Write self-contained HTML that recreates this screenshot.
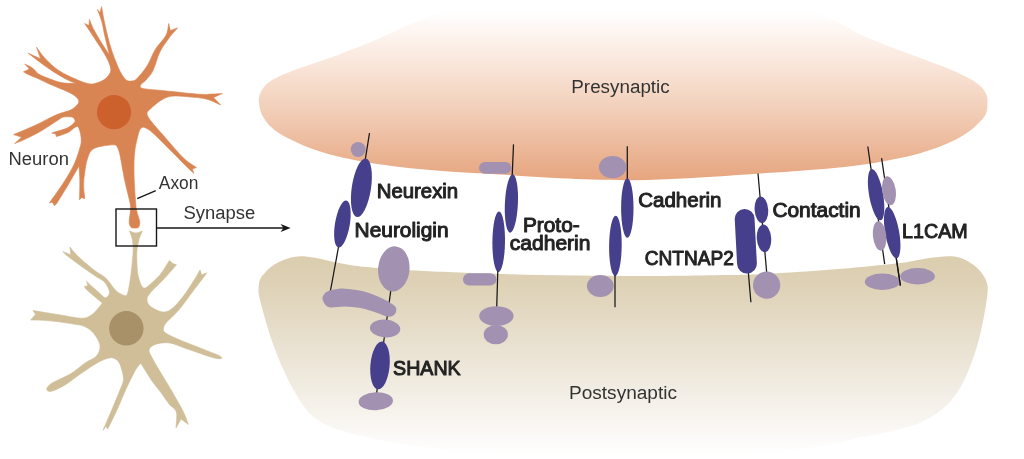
<!DOCTYPE html>
<html><head><meta charset="utf-8"><title>Synapse</title>
<style>html,body{margin:0;padding:0;background:#fff;}body{width:1024px;height:459px;overflow:hidden;font-family:"Liberation Sans",sans-serif;}svg{display:block;will-change:transform}</style>
</head><body>
<svg width="1024" height="459" viewBox="0 0 1024 459">
<defs>
<linearGradient id="gpre" gradientUnits="userSpaceOnUse" x1="0" y1="0" x2="0" y2="182">
<stop offset="0" stop-color="#ffffff"/><stop offset="0.06" stop-color="#ffffff"/><stop offset="0.3" stop-color="#fbebe1"/><stop offset="0.6" stop-color="#f2cfb9"/><stop offset="1" stop-color="#e6a47d"/>
</linearGradient>
<linearGradient id="gpost" gradientUnits="userSpaceOnUse" x1="0" y1="256" x2="0" y2="455">
<stop offset="0" stop-color="#dbcdae"/><stop offset="0.12" stop-color="#ddd0b4"/><stop offset="0.5" stop-color="#ebe4d5"/><stop offset="0.82" stop-color="#f8f5f0"/><stop offset="1" stop-color="#ffffff"/>
</linearGradient>
</defs>
<path d="M258.8,101.0 C258.6,96.4 259.9,93.4 262.0,90.0 C264.1,86.6 266.2,83.4 271.4,80.4 C277.5,76.8 287.7,72.8 298.8,68.6 C309.9,64.3 324.9,59.8 338.0,54.9 C351.1,50.0 364.2,44.8 377.3,39.2 C390.4,33.7 405.4,26.2 416.5,21.6 C427.6,17.0 431.4,15.4 444.0,11.8 C457.9,7.9 474.3,1.4 500.0,-2.0 C529.8,-6.0 581.3,-12.0 623.0,-12.0 C664.7,-12.0 716.7,-6.6 750.0,-2.0 C783.3,2.6 804.1,9.5 822.8,15.7 C841.5,21.9 848.9,29.4 862.0,35.3 C875.1,41.2 886.9,45.5 901.3,51.0 C915.7,56.5 935.9,63.4 948.3,68.6 C960.7,73.8 969.8,78.7 975.8,82.4 C980.5,85.3 982.5,87.9 984.5,91.0 C986.5,94.1 987.6,96.8 987.5,101.2 C987.4,105.6 988.2,111.6 983.6,117.6 C979.0,123.6 970.5,131.4 960.0,137.3 C949.5,143.2 937.2,148.3 920.9,152.9 C904.6,157.5 881.6,161.8 862.0,164.7 C842.4,167.6 819.5,169.2 803.2,170.6 C786.9,172.0 781.2,172.2 764.0,173.3 C746.8,174.5 722.3,176.3 700.0,177.5 C677.7,178.7 653.3,180.1 630.0,180.2 C606.7,180.3 581.7,179.2 560.0,178.3 C538.3,177.4 520.7,175.8 500.0,174.5 C479.3,173.2 457.8,172.6 436.0,170.6 C414.2,168.6 389.0,166.0 369.4,162.7 C349.8,159.4 333.4,155.9 318.4,151.0 C303.4,146.1 288.3,138.9 279.2,133.3 C270.7,128.1 266.9,123.0 263.5,117.6 C260.1,112.2 259.1,105.6 258.8,101.0Z" fill="url(#gpre)"/>
<path d="M258.7,286.0 C258.9,282.8 259.4,280.8 260.5,278.5 C261.6,276.2 263.5,274.4 265.2,272.5 C266.9,270.6 268.4,268.9 270.5,267.3 C272.6,265.7 275.0,264.1 277.9,262.6 C280.8,261.1 284.2,259.4 288.0,258.4 C291.8,257.3 296.6,256.4 300.8,256.3 C305.0,256.2 308.8,257.0 313.0,257.6 C317.2,258.2 320.3,259.0 326.2,260.2 C332.6,261.5 343.1,263.9 351.6,265.2 C360.1,266.5 366.4,267.0 377.0,267.9 C387.6,268.8 402.3,269.7 415.0,270.4 C427.7,271.1 437.3,271.6 453.1,272.2 C468.9,272.8 489.5,273.6 510.0,274.2 C530.5,274.8 552.3,275.2 576.0,275.5 C599.7,275.8 626.6,276.1 652.0,276.0 C677.4,275.9 710.5,275.3 728.5,275.0 C742.7,274.8 748.0,274.8 760.0,274.2 C772.0,273.6 785.5,272.8 800.8,271.7 C816.1,270.6 834.7,269.4 851.6,267.9 C868.5,266.4 889.7,264.4 902.4,262.8 C913.9,261.3 920.2,259.4 927.8,258.3 C935.4,257.2 943.0,256.5 948.0,256.3 C952.5,256.1 955.0,256.6 958.0,257.2 C961.0,257.8 963.3,259.0 965.8,260.2 C968.3,261.4 970.9,263.0 973.0,264.5 C975.1,266.0 976.8,267.6 978.5,269.3 C980.2,271.1 981.7,273.1 983.0,275.0 C984.3,276.9 985.4,278.7 986.2,281.0 C987.0,283.3 987.9,285.3 987.8,289.0 C987.6,293.7 986.8,300.5 985.3,309.2 C983.8,317.9 981.2,331.2 978.5,341.1 C975.8,351.0 972.7,360.1 969.3,368.5 C965.9,376.9 962.5,384.4 958.0,391.2 C953.5,398.0 948.5,404.2 942.0,409.5 C935.5,414.8 928.3,419.3 919.2,423.1 C910.1,426.9 897.2,429.8 887.3,432.2 C877.4,434.6 872.3,435.0 860.0,437.5 C847.4,440.1 833.7,444.6 811.7,447.5 C788.4,450.6 752.0,454.1 720.0,456.0 C688.0,457.9 653.3,459.0 620.0,459.0 C586.7,459.0 551.7,457.8 520.0,456.0 C488.3,454.2 456.8,451.4 430.0,448.0 C403.2,444.6 378.2,440.5 359.3,435.6 C340.4,430.8 327.4,426.8 316.3,418.9 C305.2,410.9 299.6,400.2 292.5,387.9 C285.4,375.6 278.9,360.0 273.4,345.0 C267.9,330.0 261.9,307.8 259.5,298.0 C258.2,292.7 258.5,289.2 258.7,286.0Z" fill="url(#gpost)"/>
<path d="M97.2,9.4 C98.1,10.5 99.1,11.5 100.0,12.6 C100.5,10.6 101.1,8.6 101.6,6.6 C102.6,12.2 103.2,16.8 104.7,23.5 C106.2,30.2 108.4,39.9 110.6,47.0 C112.8,54.1 115.6,61.2 117.6,66.0 C119.5,70.4 120.9,73.1 122.5,75.5 C124.1,77.9 125.4,79.6 127.0,80.5 C128.6,81.4 130.4,81.2 132.0,81.0 C133.6,80.8 134.9,80.6 136.5,79.0 C139.0,76.5 143.9,70.9 147.0,66.0 C150.1,61.1 152.1,54.5 155.3,49.4 C158.5,44.3 163.8,39.6 166.0,35.3 C168.2,31.0 167.8,27.4 168.7,23.5 C169.2,25.9 169.8,28.2 170.3,30.6 C172.7,29.7 175.2,28.7 177.6,27.8 C174.9,31.1 172.3,33.6 169.4,37.6 C166.5,41.6 162.7,46.3 160.0,51.8 C157.3,57.3 155.3,65.9 153.0,70.6 C150.7,75.3 148.0,77.7 146.0,80.0 C144.0,82.3 141.9,83.2 141.0,84.5 C140.2,85.6 139.9,86.8 140.7,87.5 C141.5,88.2 143.5,88.7 146.0,89.0 C150.0,89.5 156.3,90.0 164.7,90.8 C173.7,91.7 191.9,93.8 200.0,94.3 C205.8,94.7 209.3,94.1 213.0,94.0 C216.7,93.9 219.3,93.7 222.4,93.5 C219.4,94.9 216.5,96.2 213.5,97.6 C215.9,100.1 218.3,102.5 220.7,105.0 C216.1,103.1 212.4,100.6 207.0,99.2 C201.6,97.8 194.0,97.3 188.0,96.8 C182.0,96.3 175.7,95.6 171.0,96.3 C166.3,97.0 163.4,98.9 160.0,101.0 C156.6,103.1 152.8,106.7 150.6,108.8 C148.7,110.6 147.0,111.5 147.0,113.5 C147.0,115.5 148.4,117.7 150.6,120.6 C153.5,124.5 159.2,130.8 164.7,137.0 C170.2,143.2 178.2,152.9 183.5,158.0 C188.7,163.0 192.2,164.4 196.5,167.6 C195.1,168.1 193.7,168.5 192.3,169.0 C192.9,170.5 193.4,172.0 194.0,173.5 C191.3,171.0 189.5,169.5 186.0,166.0 C181.1,161.2 170.6,150.3 164.7,144.5 C158.8,138.7 154.0,133.8 150.6,131.0 C148.2,129.0 146.1,128.0 144.5,127.5 C143.0,127.1 141.9,127.4 141.0,128.2 C140.1,129.0 139.4,130.3 138.8,132.4 C137.8,136.2 135.6,144.3 134.8,151.0 C134.0,157.7 133.9,164.6 134.0,172.4 C134.1,180.2 134.9,191.7 135.3,198.0 C135.7,203.4 135.8,206.2 136.5,210.0 C137.2,213.8 139.1,218.4 139.6,221.0 C140.0,223.0 139.7,224.5 139.4,225.6 C139.1,226.7 138.7,227.3 138.0,227.7 C137.3,228.1 136.1,228.0 135.0,228.0 C133.9,228.0 132.4,228.1 131.6,227.7 C130.8,227.3 130.4,226.6 130.0,225.6 C129.6,224.6 129.1,223.4 129.2,221.5 C129.3,218.5 130.6,211.5 130.6,207.6 C130.6,203.7 129.8,202.3 128.9,198.0 C127.9,193.5 126.3,188.0 124.8,180.8 C123.3,173.6 121.1,160.2 119.9,154.7 C119.2,151.4 118.3,149.1 117.5,147.5 C116.8,146.0 116.6,145.0 115.0,144.9 C112.4,144.7 105.7,145.4 101.9,146.2 C98.1,147.0 94.5,147.6 92.0,149.8 C89.5,152.0 88.4,155.8 87.2,159.6 C86.0,163.4 85.3,168.5 84.7,172.7 C84.1,176.9 83.6,180.7 83.6,185.0 C83.6,189.3 84.3,194.2 84.7,198.8 C83.7,198.4 82.8,197.9 81.8,197.5 C81.0,198.3 80.3,199.0 79.5,199.8 C79.6,193.5 79.9,186.4 79.8,180.8 C79.7,175.2 79.3,170.9 79.0,166.0 C75.2,172.6 71.3,179.6 67.6,185.8 C63.9,192.0 59.2,199.7 57.0,203.0 C56.1,204.4 55.3,204.9 54.5,205.8 C53.8,204.5 53.0,203.3 52.3,202.0 C51.3,202.3 50.3,202.6 49.3,202.9 C53.8,196.6 58.6,190.4 62.7,184.0 C66.8,177.6 71.0,171.0 74.0,164.5 C77.0,158.0 79.5,149.6 80.7,145.0 C81.6,141.5 81.2,139.5 81.0,137.0 C80.8,134.5 80.1,131.8 79.5,130.0 C78.9,128.3 78.5,126.8 77.6,126.5 C76.7,126.2 75.5,127.1 74.0,128.0 C72.4,129.0 71.1,131.0 68.2,132.4 C65.3,133.8 60.4,135.2 56.5,136.6 C56.2,135.7 55.8,134.7 55.5,133.8 C54.3,133.5 53.0,133.3 51.8,133.0 C57.2,131.2 64.2,129.5 68.0,127.6 C71.6,125.8 73.8,123.3 74.8,121.8 C75.6,120.5 74.5,119.3 74.0,118.5 C73.5,117.7 73.0,117.2 71.8,117.0 C70.0,116.8 65.8,116.5 63.5,117.0 C61.2,117.5 60.3,118.7 57.8,120.3 C54.0,122.6 46.6,127.9 41.0,131.1 C35.4,134.3 28.8,137.5 24.4,139.6 C20.1,141.6 17.9,142.3 14.6,143.6 C16.9,141.5 19.2,139.3 21.5,137.2 C18.9,136.3 16.2,135.5 13.6,134.6 C20.8,131.5 28.1,128.6 35.3,125.3 C42.4,122.0 50.6,117.2 56.5,114.7 C62.4,112.2 67.2,111.6 70.6,110.0 C73.9,108.4 75.6,106.5 77.0,105.0 C78.3,103.5 79.1,102.5 78.8,101.0 C78.5,99.5 77.1,97.7 75.0,96.0 C72.9,94.3 69.7,92.7 66.0,91.0 C62.3,89.3 58.0,87.8 53.0,85.6 C48.0,83.4 40.5,79.8 36.2,77.8 C32.1,76.0 29.1,74.9 27.0,73.9 C25.3,73.1 24.7,72.5 23.5,71.8 C25.5,70.9 27.4,69.9 29.4,69.0 C27.8,67.3 26.3,65.7 24.7,64.0 C27.3,65.3 30.2,66.3 32.5,68.0 C34.8,69.7 36.2,72.4 38.6,74.0 C41.0,75.6 43.3,76.4 47.0,77.8 C50.7,79.2 56.1,81.6 61.0,82.6 C65.9,83.6 71.3,83.3 76.5,83.6 C73.5,82.3 71.3,81.8 67.4,79.8 C63.5,77.8 57.4,74.2 53.0,71.4 C48.6,68.6 45.1,66.0 41.0,63.0 C36.9,60.0 32.5,56.5 28.2,53.2 C32.3,55.1 36.5,56.9 40.6,58.8 C39.3,54.9 37.9,51.1 36.6,47.2 C39.5,51.0 41.5,54.7 45.2,58.6 C48.9,62.5 53.4,67.0 58.8,70.6 C64.2,74.2 72.7,77.8 77.6,80.0 C82.1,82.0 85.3,82.9 88.0,83.5 C90.6,84.1 91.4,84.3 94.0,83.7 C96.6,83.1 100.9,81.6 103.5,80.0 C106.1,78.4 108.3,76.0 109.5,74.0 C110.7,72.0 111.1,70.7 110.6,68.0 C110.0,65.1 108.7,61.4 106.0,56.5 C103.2,51.4 97.5,43.1 94.0,37.6 C90.5,32.1 87.8,28.2 84.7,23.5 C86.1,24.2 87.6,24.9 89.0,25.6 C89.1,23.5 89.3,21.4 89.4,19.3 C90.6,22.2 91.1,24.2 93.0,28.0 C94.9,31.8 98.3,37.5 101.0,42.0 C103.7,46.5 106.6,50.7 109.4,55.0 C107.8,48.3 105.8,40.2 104.6,35.0 C103.5,30.1 103.2,27.3 102.4,24.0 C101.6,20.7 100.5,17.4 99.6,15.0 C98.7,12.6 98.0,11.3 97.2,9.4Z" fill="#d98553" stroke="#d98553" stroke-width="0.6" stroke-linejoin="round"/>
<circle cx="114.05" cy="112.2" r="17.1" fill="#cc612e"/>
<path d="M129.5,231.0 C131.6,231.7 133.7,233.0 135.8,233.0 C138.0,233.0 140.2,231.7 142.4,231.0 C141.5,233.0 140.5,235.0 139.8,237.0 C139.1,239.0 138.7,240.3 138.2,243.0 C137.7,245.8 136.9,248.7 136.8,253.5 C136.7,258.4 136.9,267.1 137.6,272.4 C138.3,277.7 140.1,282.7 141.2,285.3 C141.9,286.9 143.0,287.7 144.0,288.0 C145.0,288.3 145.9,287.9 147.0,287.0 C149.7,284.8 156.3,279.1 160.0,274.7 C163.7,270.3 166.3,265.3 169.4,260.6 C170.5,261.6 171.7,262.6 172.8,263.6 C174.0,264.0 175.3,264.4 176.5,264.8 C175.3,266.1 174.6,267.0 173.0,268.8 C170.7,271.4 166.1,276.7 162.4,280.6 C158.7,284.5 153.2,289.3 150.6,292.4 C148.4,295.1 147.0,297.0 147.0,299.4 C147.0,301.8 148.0,304.4 150.6,306.5 C153.2,308.6 158.9,311.5 162.4,311.9 C165.9,312.3 168.3,311.5 171.8,308.8 C175.3,306.1 179.6,301.0 183.5,295.9 C187.4,290.8 192.6,282.5 195.3,278.2 C197.6,274.6 198.4,272.7 200.0,270.0 C200.5,271.7 201.1,273.3 201.6,275.0 C203.3,274.3 204.9,273.5 206.6,272.8 C205.7,274.1 205.3,275.1 204.0,276.8 C201.7,279.9 197.2,285.7 193.0,291.2 C188.8,296.7 183.1,304.9 178.8,310.0 C174.5,315.1 169.6,318.8 167.0,321.8 C164.9,324.2 163.8,326.2 163.5,328.0 C163.2,329.8 163.3,331.2 165.0,332.6 C167.2,334.4 171.2,336.2 176.5,338.5 C182.3,341.1 192.9,345.1 200.0,347.9 C207.1,350.7 215.2,353.8 218.8,355.4 C220.3,356.1 221.6,357.0 221.8,357.6 C222.0,358.2 221.0,358.8 220.0,358.8 C218.3,358.8 215.4,358.4 211.8,357.3 C206.5,355.7 195.3,351.7 188.2,349.3 C181.1,346.9 174.9,343.7 169.4,342.9 C163.9,342.1 158.6,343.4 155.3,344.4 C152.1,345.4 150.2,347.2 149.4,349.0 C148.6,350.8 149.4,352.5 150.6,355.0 C152.4,358.7 156.6,365.6 160.0,371.4 C163.4,377.2 168.6,385.6 171.2,390.0 C173.3,393.5 173.6,394.3 175.6,397.8 C177.6,401.4 181.3,407.5 183.4,411.9 C185.5,416.3 186.7,420.2 188.4,424.4 C185.9,422.6 183.5,420.8 181.0,419.0 C179.3,422.0 177.7,425.0 176.0,428.0 C176.1,422.7 177.5,415.9 176.4,412.0 C175.3,408.1 172.1,407.7 169.4,404.4 C166.8,401.1 163.4,395.9 160.5,392.0 C157.6,388.1 155.3,385.8 152.0,381.0 C148.7,376.2 144.5,369.1 140.7,363.2 C139.1,365.3 137.6,366.4 135.8,369.5 C133.5,373.5 130.2,380.1 127.0,387.0 C123.8,393.9 119.7,404.0 116.5,411.0 C113.3,418.0 110.6,423.0 107.7,429.0 C107.1,428.1 106.6,427.2 106.0,426.3 C105.0,427.6 104.0,429.0 103.0,430.3 C105.9,423.6 108.8,417.0 111.6,410.3 C114.4,403.6 118.0,395.3 120.0,390.0 C121.9,384.9 123.5,382.8 123.5,378.5 C123.5,374.2 121.2,367.6 120.0,364.4 C119.0,361.8 117.6,360.6 116.0,359.5 C114.4,358.4 113.1,357.4 110.6,357.8 C107.7,358.2 103.5,359.5 98.8,362.0 C94.1,364.5 87.9,368.9 82.4,372.6 C76.9,376.3 70.9,381.3 65.9,384.4 C60.9,387.5 55.5,389.9 52.5,391.0 C50.6,391.7 48.9,391.5 48.0,391.0 C47.1,390.5 46.4,389.3 47.0,388.0 C47.6,386.7 49.2,384.8 51.8,383.2 C55.7,380.8 65.1,377.1 70.6,373.8 C76.1,370.5 80.4,366.2 84.7,363.2 C89.0,360.2 94.0,358.9 96.5,356.0 C99.0,353.1 100.4,349.2 100.0,345.5 C99.6,341.8 96.5,337.0 94.0,333.8 C91.5,330.6 88.6,328.2 84.7,326.5 C80.8,324.8 76.9,324.6 70.6,323.6 C64.3,322.6 53.7,321.2 47.0,320.6 C40.3,320.0 36.1,320.2 30.6,320.0 C32.2,318.1 33.9,316.3 35.5,314.4 C34.7,313.1 33.8,311.8 33.0,310.5 C41.6,311.9 50.6,313.4 58.8,314.7 C67.0,316.0 76.9,318.2 82.4,318.2 C86.9,318.2 89.1,316.5 91.8,314.7 C94.5,312.9 97.0,309.6 98.8,307.6 C100.6,305.7 101.2,304.5 102.4,303.0 C100.4,301.4 99.1,300.4 96.5,298.2 C93.9,296.0 89.0,291.9 87.0,290.0 C85.5,288.6 85.1,287.7 84.2,286.5 C85.4,286.2 86.6,286.0 87.8,285.7 C87.4,284.2 87.0,282.8 86.6,281.3 C87.9,282.6 88.7,283.6 90.6,285.3 C92.6,287.1 96.5,290.4 98.8,292.4 C101.1,294.4 103.0,296.9 104.5,297.5 C106.0,298.1 107.2,297.1 108.0,296.0 C108.8,294.9 109.9,293.4 109.4,291.2 C108.8,288.9 106.7,284.4 104.5,282.0 C102.3,279.6 99.8,279.1 96.0,276.5 C91.9,273.7 85.0,268.9 80.0,265.3 C75.0,261.7 68.7,257.0 65.9,254.7 C64.4,253.5 64.0,252.6 63.0,251.6 C65.6,252.7 68.2,253.8 70.8,254.9 C70.5,252.3 70.2,249.6 69.9,247.0 C72.5,250.0 73.8,252.2 77.6,255.9 C81.6,259.7 89.3,266.3 94.0,270.0 C98.7,273.7 102.4,274.9 105.9,278.2 C109.5,281.5 112.6,287.3 115.3,290.0 C117.9,292.6 120.0,293.7 122.0,294.5 C124.0,295.3 126.0,296.7 127.0,294.7 C128.4,291.8 129.6,283.9 130.6,277.0 C131.6,270.1 132.6,259.2 133.0,253.5 C133.3,248.8 133.0,245.8 132.8,243.0 C132.6,240.3 132.2,239.0 131.7,237.0 C131.1,235.0 130.2,233.0 129.5,231.0Z" fill="#cfbe97" stroke="#cfbe97" stroke-width="0.6" stroke-linejoin="round"/>
<circle cx="126.35" cy="328.3" r="17.2" fill="#a89068"/>
<rect x="116" y="209" width="40.5" height="37" fill="none" stroke="#171717" stroke-width="1.4"/>
<line x1="156.5" y1="228" x2="284" y2="228" stroke="#171717" stroke-width="1.4"/>
<path d="M290.6,228 L280.6,223.9 L283.4,228 L280.6,232.1Z" fill="#171717"/>
<line x1="155.8" y1="190.6" x2="137.2" y2="198.7" stroke="#171717" stroke-width="1.3"/>
<line x1="369.5" y1="133.2" x2="365.2" y2="160" stroke="#171717" stroke-width="1.25"/>
<ellipse cx="358.2" cy="149.5" rx="7.5" ry="7.5" fill="#a291b0"/>
<ellipse cx="361.4" cy="187.8" rx="9.6" ry="29.6" fill="#463f8c" transform="rotate(8.7 361.4 187.8)"/>
<line x1="338.6" y1="246.5" x2="330.4" y2="291" stroke="#171717" stroke-width="1.25"/>
<ellipse cx="342.4" cy="224" rx="7.4" ry="23.8" fill="#463f8c" transform="rotate(9.6 342.4 224)"/>
<line x1="391" y1="289" x2="376.5" y2="394" stroke="#171717" stroke-width="1.25"/>
<ellipse cx="393.8" cy="268.9" rx="15.7" ry="22.6" fill="#a291b0" transform="rotate(5 393.8 268.9)"/>
<path d="M322.5,299.0 C322.2,297.1 323.3,295.4 324.3,294.0 C325.3,292.6 326.8,291.6 328.7,290.8 C330.6,290.0 333.3,289.6 336.0,289.2 C338.7,288.8 340.8,288.4 344.7,288.7 C348.8,289.0 355.4,289.6 360.8,290.8 C366.2,292.0 371.9,294.1 376.8,296.1 C381.8,298.1 387.4,301.2 390.5,302.9 C392.8,304.2 394.2,305.3 395.2,306.5 C396.2,307.7 396.5,308.8 396.3,310.2 C396.1,311.6 395.6,313.7 394.2,314.8 C392.8,315.9 391.0,317.1 388.2,316.8 C385.3,316.5 381.4,314.3 376.8,312.8 C372.2,311.3 366.2,309.1 360.8,308.0 C355.4,306.9 349.7,306.5 344.7,306.4 C339.7,306.3 334.1,307.6 331.0,307.4 C328.5,307.3 327.2,306.7 325.8,305.3 C324.4,303.9 322.8,300.9 322.5,299.0Z" fill="#a291b0"/>
<ellipse cx="385.1" cy="328.5" rx="15.2" ry="8.9" fill="#a291b0" transform="rotate(4 385.1 328.5)"/>
<ellipse cx="380" cy="365.4" rx="9.6" ry="24" fill="#463f8c" transform="rotate(5 380 365.4)"/>
<ellipse cx="375.8" cy="401.3" rx="17.2" ry="9" fill="#a291b0" transform="rotate(-3 375.8 401.3)"/>
<line x1="513.5" y1="144.4" x2="512.2" y2="176" stroke="#171717" stroke-width="1.25"/>
<rect x="479" y="162" width="32.5" height="11.8" rx="5.9" fill="#a291b0"/>
<ellipse cx="511.4" cy="203.5" rx="6.5" ry="29.2" fill="#463f8c" transform="rotate(2.6 511.4 203.5)"/>
<ellipse cx="498.7" cy="241.7" rx="6.3" ry="30.3" fill="#463f8c" transform="rotate(0.6 498.7 241.7)"/>
<rect x="463" y="273.2" width="33.4" height="12.4" rx="6.2" fill="#a291b0"/>
<line x1="497.8" y1="271" x2="496.7" y2="308" stroke="#171717" stroke-width="1.25"/>
<ellipse cx="496.4" cy="316" rx="17.2" ry="9.8" fill="#a291b0"/>
<ellipse cx="495.8" cy="334.6" rx="12.1" ry="9.6" fill="#a291b0"/>
<line x1="627.3" y1="146.2" x2="627.3" y2="179" stroke="#171717" stroke-width="1.25"/>
<ellipse cx="612.6" cy="167.1" rx="13.7" ry="11.1" fill="#a291b0"/>
<ellipse cx="627.3" cy="208" rx="6.2" ry="29.8" fill="#463f8c"/>
<ellipse cx="615.4" cy="245.8" rx="6.3" ry="30.1" fill="#463f8c" transform="rotate(0.6 615.4 245.8)"/>
<line x1="615" y1="275" x2="615" y2="307.2" stroke="#171717" stroke-width="1.25"/>
<ellipse cx="600.3" cy="286" rx="13.4" ry="11" fill="#a291b0"/>
<line x1="758" y1="173.5" x2="766.9" y2="275" stroke="#171717" stroke-width="1.25"/>
<ellipse cx="761.4" cy="209.7" rx="6.8" ry="13.3" fill="#463f8c" transform="rotate(-4 761.4 209.7)"/>
<ellipse cx="764" cy="238.4" rx="7.2" ry="13.8" fill="#463f8c" transform="rotate(-4 764 238.4)"/>
<ellipse cx="766.6" cy="285.2" rx="13.6" ry="13.6" fill="#a291b0"/>
<line x1="748.3" y1="272" x2="750.9" y2="302.2" stroke="#171717" stroke-width="1.25"/>
<rect x="735.9" y="208.9" width="19.8" height="64.6" rx="9.9" fill="#463f8c" transform="rotate(-3 745.8 241.2)"/>
<line x1="867.8" y1="146.5" x2="884.7" y2="264.1" stroke="#171717" stroke-width="1.25"/>
<line x1="881.6" y1="158.2" x2="900.4" y2="285.7" stroke="#171717" stroke-width="1.25"/>
<ellipse cx="882.4" cy="281.8" rx="17.6" ry="8.2" fill="#a291b0"/>
<ellipse cx="917.6" cy="276.3" rx="17.3" ry="8.2" fill="#a291b0"/>
<line x1="896" y1="257" x2="900.4" y2="285.7" stroke="#171717" stroke-width="1.25"/>
<ellipse cx="876.1" cy="194.7" rx="7" ry="26" fill="#463f8c" transform="rotate(-10 876.1 194.7)"/>
<ellipse cx="889" cy="190.8" rx="6.8" ry="14.6" fill="#a291b0" transform="rotate(-8 889 190.8)"/>
<ellipse cx="892.2" cy="232.7" rx="7" ry="26" fill="#463f8c" transform="rotate(-10 892.2 232.7)"/>
<ellipse cx="879.6" cy="235.9" rx="6.7" ry="14.8" fill="#a291b0" transform="rotate(-6 879.6 235.9)"/>
<g font-family="Liberation Sans, sans-serif" fill="#232323">
<text x="8.5" y="164.7" font-size="18" fill="#333333" textLength="60.4" lengthAdjust="spacingAndGlyphs">Neuron</text>
<text x="158.8" y="188.8" font-size="18" fill="#333333" textLength="39.6" lengthAdjust="spacingAndGlyphs">Axon</text>
<text x="183.5" y="218.7" font-size="18" fill="#333333" textLength="71.8" lengthAdjust="spacingAndGlyphs">Synapse</text>
<text x="571.3" y="93.4" font-size="18" fill="#333333" textLength="98.4" lengthAdjust="spacingAndGlyphs">Presynaptic</text>
<text x="569" y="399.3" font-size="18" fill="#333333" textLength="108" lengthAdjust="spacingAndGlyphs">Postsynaptic</text>
<text x="376.7" y="197.9" font-size="20" stroke="#232323" stroke-width="1.0" stroke-linejoin="round" textLength="81.5" lengthAdjust="spacingAndGlyphs">Neurexin</text>
<text x="354.6" y="237.2" font-size="20" stroke="#232323" stroke-width="1.0" stroke-linejoin="round" textLength="94" lengthAdjust="spacingAndGlyphs">Neuroligin</text>
<text x="522.9" y="231.6" font-size="20" stroke="#232323" stroke-width="1.0" stroke-linejoin="round" textLength="56.8" lengthAdjust="spacingAndGlyphs">Proto-</text>
<text x="509.8" y="249.7" font-size="20" stroke="#232323" stroke-width="1.0" stroke-linejoin="round" textLength="80.7" lengthAdjust="spacingAndGlyphs">cadherin</text>
<text x="638.2" y="207.4" font-size="20" stroke="#232323" stroke-width="1.0" stroke-linejoin="round" textLength="83.3" lengthAdjust="spacingAndGlyphs">Cadherin</text>
<text x="644.7" y="264.6" font-size="20" stroke="#232323" stroke-width="1.0" stroke-linejoin="round" textLength="89.2" lengthAdjust="spacingAndGlyphs">CNTNAP2</text>
<text x="772.4" y="217.1" font-size="20" stroke="#232323" stroke-width="1.0" stroke-linejoin="round" textLength="88.3" lengthAdjust="spacingAndGlyphs">Contactin</text>
<text x="902" y="237.8" font-size="20" stroke="#232323" stroke-width="1.0" stroke-linejoin="round" textLength="65.8" lengthAdjust="spacingAndGlyphs">L1CAM</text>
<text x="393.1" y="374.5" font-size="20" stroke="#232323" stroke-width="1.0" stroke-linejoin="round" textLength="67.6" lengthAdjust="spacingAndGlyphs">SHANK</text>
</g>
</svg>
</body></html>
